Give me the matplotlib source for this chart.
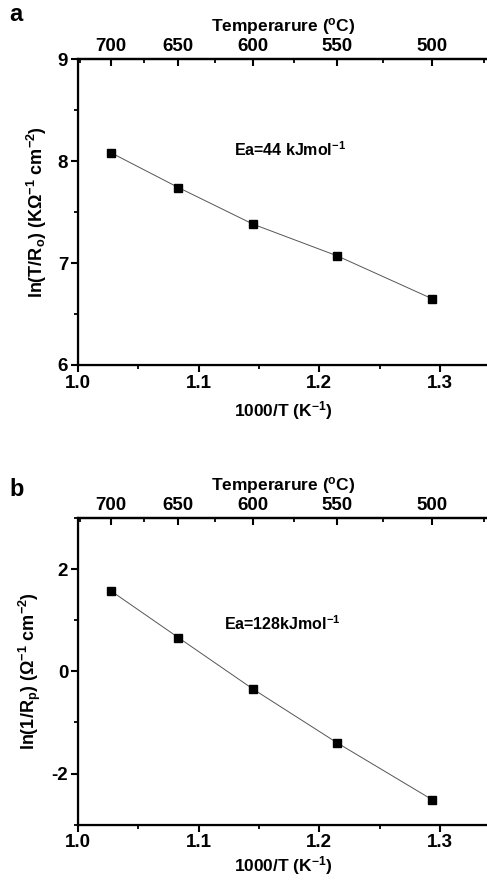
import matplotlib
matplotlib.use("Agg")
import matplotlib.pyplot as plt
from matplotlib.ticker import MultipleLocator, FixedLocator
import numpy as np

plt.rcParams['font.family'] = ['Liberation Sans', 'DejaVu Sans']
plt.rcParams['font.weight'] = 'bold'
plt.rcParams['mathtext.fontset'] = 'custom'
plt.rcParams['mathtext.rm'] = 'Liberation Sans:bold'
plt.rcParams['mathtext.bf'] = 'Liberation Sans:bold'
plt.rcParams['mathtext.it'] = 'Liberation Sans:bold'
plt.rcParams['mathtext.default'] = 'bf'
plt.rcParams['axes.unicode_minus'] = False

# measured temperatures (deg C) and Arrhenius data
temps_c = [700, 650, 600, 550, 500]
minor_temps_c = [725, 675, 625, 575, 525, 475]
inv_t = [1000.0 / (t + 273.15) for t in temps_c]

ln_t_ro = [8.08, 7.74, 7.38, 7.07, 6.65]
ln_1_rp = [1.57, 0.66, -0.35, -1.40, -2.51]


def to_inv(t):
    return 1000.0 / (np.asarray(t, dtype=float) + 273.15)


fig = plt.figure(figsize=(4.87, 8.81), dpi=100)
ax_a = fig.add_axes([0.160, 0.5857, 0.845, 0.3473])
ax_b = fig.add_axes([0.160, 0.064, 0.845, 0.348])

panels = [
    (ax_a, ln_t_ro, (6, 9), 1, 0.5,
     r"ln(T/R$_o$) (K$\Omega^{-1}$ cm$^{-2}$)",
     r"Ea=44 kJmol$^{-1}$", (1.176, 8.11), "a", 0.983, 5),
    (ax_b, ln_1_rp, (-3, 3), 2, 1,
     r"ln(1/R$_p$) ($\Omega^{-1}$ cm$^{-2}$)",
     r"Ea=128kJmol$^{-1}$", (1.169, 0.94), "b", 0.444, 2),
]

for ax, yy, ylim, major, minor, ylab, ea, ea_pos, letter, ly, xpad in panels:
    ax.plot(inv_t, yy, '-', color='#555555', lw=0.7,
            marker='s', ms=6, mfc='black', mec='black')
    ax.set_xlim(1.0, 1.341)
    ax.set_ylim(*ylim)
    ax.xaxis.set_major_locator(MultipleLocator(0.1))
    ax.xaxis.set_minor_locator(MultipleLocator(0.05))
    ax.yaxis.set_major_locator(MultipleLocator(major))
    ax.yaxis.set_minor_locator(MultipleLocator(minor))
    ax.xaxis.set_major_formatter(plt.FormatStrFormatter('%.1f'))
    ax.spines['right'].set_visible(False)
    for s in ['left', 'bottom', 'top']:
        ax.spines[s].set_linewidth(1.6)
    ax.tick_params(which='major', direction='out', length=5, width=1.5,
                   labelsize=13.5, pad=2)
    ax.tick_params(which='minor', direction='out', length=3, width=1.3)
    ax.set_xlabel(r"1000/T (K$^{-1}$)", fontsize=12.5, fontweight='bold',
                  labelpad=xpad)
    ax.set_ylabel(ylab, fontsize=13, fontweight='bold', labelpad=6)
    ax.text(ea_pos[0], ea_pos[1], ea, fontsize=11.5, fontweight='bold',
            ha='center', va='center')

    top = ax.twiny()
    top.set_xlim(ax.get_xlim())
    top.spines['right'].set_visible(False)
    top.spines['top'].set_linewidth(1.6)
    top.xaxis.set_major_locator(FixedLocator(to_inv(temps_c)))
    top.xaxis.set_minor_locator(FixedLocator(to_inv(minor_temps_c)))
    top.set_xticklabels([str(t) for t in temps_c])
    top.tick_params(which='major', direction='in', length=5, width=1.5,
                    labelsize=13.5, pad=3)
    top.tick_params(which='minor', direction='in', length=3, width=1.3)
    top.set_xlabel(r"Temperarure ($^{o}$C)", fontsize=12.5, fontweight='bold',
                   labelpad=5)

    fig.text(0.02, ly, letter, fontsize=17, fontweight='bold',
             ha='left', va='center')

fig.savefig("out.png", dpi=100)
